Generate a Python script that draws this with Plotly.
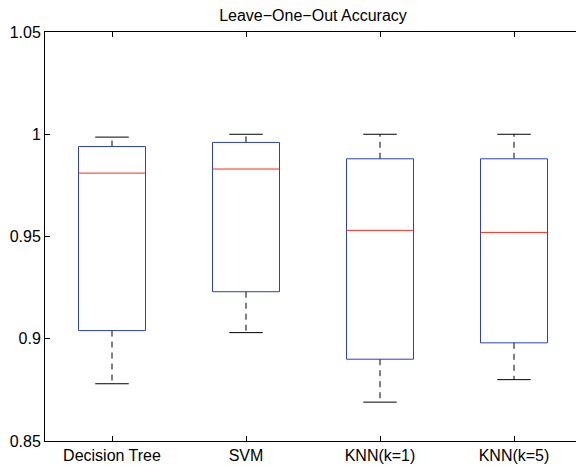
import plotly.graph_objects as go

categories = ["Decision Tree", "SVM", "KNN(k=1)", "KNN(k=5)"]
lower_whisker = [0.878, 0.903, 0.869, 0.880]
q1 = [0.904, 0.923, 0.890, 0.898]
median = [0.981, 0.983, 0.953, 0.952]
q3 = [0.994, 0.996, 0.988, 0.988]
upper_whisker = [0.9986, 1.000, 1.000, 1.000]

y_ticks = [0.85, 0.9, 0.95, 1.0, 1.05]
y_ticktext = ["0.85", "0.9", "0.95", "1", "1.05"]

BOX_HALF = 0.25
CAP_HALF = 0.125
FONT = "Liberation Sans, Arial, Helvetica, sans-serif"

fig = go.Figure()
for i, cat in enumerate(categories):
    x = i + 1
    # whiskers (dashed)
    fig.add_trace(go.Scatter(
        x=[x, x, None, x, x],
        y=[q3[i], upper_whisker[i], None, q1[i], lower_whisker[i]],
        mode="lines", line=dict(color="black", width=1, dash="6px,5px"),
        hoverinfo="skip", showlegend=False))
    # caps
    fig.add_trace(go.Scatter(
        x=[x - CAP_HALF, x + CAP_HALF, None, x - CAP_HALF, x + CAP_HALF],
        y=[upper_whisker[i], upper_whisker[i], None, lower_whisker[i], lower_whisker[i]],
        mode="lines", line=dict(color="black", width=1),
        hoverinfo="skip", showlegend=False))
    # box
    fig.add_trace(go.Scatter(
        x=[x - BOX_HALF, x + BOX_HALF, x + BOX_HALF, x - BOX_HALF, x - BOX_HALF],
        y=[q1[i], q1[i], q3[i], q3[i], q1[i]],
        mode="lines", line=dict(color="#2b3fbf", width=1),
        hoverinfo="skip", showlegend=False))
    # median
    fig.add_trace(go.Scatter(
        x=[x - BOX_HALF, x + BOX_HALF],
        y=[median[i], median[i]],
        mode="lines", line=dict(color="#ff2a1a", width=1),
        hoverinfo="skip", showlegend=False))

fig.update_layout(
    width=576, height=466,
    margin=dict(l=45, r=0, t=32, b=25, pad=0),
    paper_bgcolor="white", plot_bgcolor="white",
    font=dict(family=FONT, color="black", size=16),
    title=dict(
        text="Leave\u2212One\u2212Out Accuracy",
        x=313 / 576, xref="container", xanchor="center",
        y=1 - 15 / 466, yref="container", yanchor="middle",
        font=dict(size=16, family=FONT, color="black")),
)

fig.update_xaxes(
    range=[0.5, 0.5 + 531 / 134], tickmode="array",
    tickvals=[1, 2, 3, 4], ticktext=categories,
    ticks="inside", ticklen=5, tickcolor="black", tickwidth=1,
    showline=True, linecolor="black", linewidth=1, mirror="ticks",
    showgrid=False, zeroline=False, tickfont=dict(size=16),
)
fig.update_yaxes(
    range=[0.85, 1.05], tickmode="array",
    tickvals=y_ticks, ticktext=y_ticktext,
    ticks="inside", ticklen=5, tickcolor="black", tickwidth=1,
    showline=True, linecolor="black", linewidth=1, mirror=False,
    showgrid=False, zeroline=False, tickfont=dict(size=16),
)

fig.write_html("out.html")
